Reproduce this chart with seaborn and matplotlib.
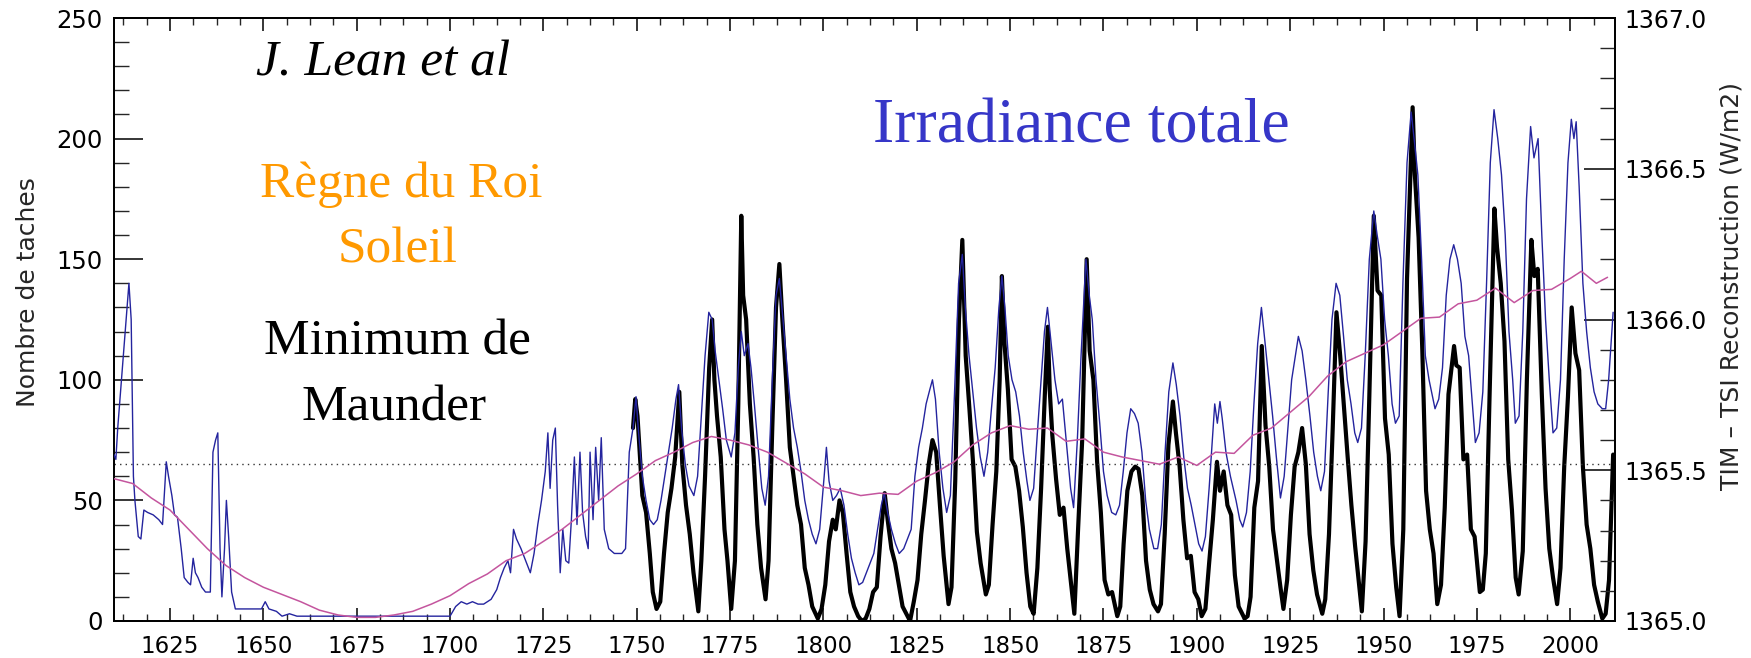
import matplotlib
matplotlib.use("Agg")
import matplotlib.pyplot as plt
from matplotlib.ticker import MultipleLocator, FormatStrFormatter
import seaborn as sns

# ---------------- data ----------------
# Sunspot number (left axis)
ssn_years = [1749.0, 1749.6, 1750.2, 1750.8, 1751.5, 1752.5, 1753.5, 1754.3, 1755.3, 1756.3, 1757.3, 1758.3, 1759.3, 1760.3,
             1761.4, 1762.2, 1763.2, 1764.2, 1765.2, 1766.5, 1767.3, 1768.3, 1769.4, 1770.2, 1770.8, 1771.5, 1772.5, 1773.5,
             1774.3, 1775.3, 1776.3, 1777.2, 1778.0, 1778.5, 1779.3, 1780.3, 1781.3, 1782.3, 1783.3, 1784.5, 1785.3, 1786.3,
             1787.3, 1788.2, 1789.0, 1790.0, 1791.0, 1792.0, 1793.0, 1794.0, 1795.0, 1796.0, 1797.0, 1798.5, 1799.5, 1800.5,
             1801.5, 1802.5, 1803.3, 1804.3, 1805.2, 1806.2, 1807.2, 1808.2, 1809.3, 1810.3, 1811.3, 1812.3, 1813.3, 1814.3,
             1815.3, 1816.4, 1817.2, 1818.2, 1819.2, 1820.2, 1821.2, 1822.2, 1823.2, 1824.2, 1825.2, 1826.2, 1827.2, 1828.2,
             1829.2, 1830.2, 1831.2, 1832.2, 1833.5, 1834.3, 1835.3, 1836.3, 1837.2, 1838.1, 1839.1, 1840.1, 1841.1, 1842.1,
             1843.5, 1844.3, 1845.3, 1846.3, 1847.2, 1847.8, 1848.5, 1849.4, 1850.4, 1851.4, 1852.4, 1853.4, 1854.4, 1855.4,
             1856.3, 1857.3, 1858.3, 1859.3, 1860.1, 1860.6, 1861.3, 1862.3, 1863.3, 1864.3, 1865.3, 1866.3, 1867.2, 1868.2,
             1869.3, 1870.5, 1871.3, 1872.3, 1873.3, 1874.3, 1875.3, 1876.3, 1877.3, 1878.7, 1879.5, 1880.4, 1881.4, 1882.5,
             1883.5, 1884.4, 1885.4, 1886.4, 1887.4, 1888.4, 1889.6, 1890.4, 1891.4, 1892.4, 1893.6, 1894.4, 1895.4, 1896.4,
             1897.4, 1898.4, 1899.4, 1900.4, 1901.3, 1902.3, 1903.3, 1904.3, 1905.4, 1906.2, 1907.2, 1908.2, 1909.2, 1910.2,
             1911.2, 1912.8, 1913.6, 1914.4, 1915.4, 1916.4, 1917.4, 1918.4, 1919.4, 1920.4, 1921.4, 1922.4, 1923.2, 1924.2,
             1925.2, 1926.2, 1927.2, 1928.2, 1929.2, 1930.2, 1931.2, 1932.2, 1933.6, 1934.4, 1935.4, 1936.4, 1937.4, 1938.4,
             1939.4, 1940.4, 1941.4, 1942.4, 1943.4, 1944.2, 1945.2, 1946.2, 1947.4, 1948.4, 1949.4, 1950.4, 1951.4, 1952.4,
             1953.4, 1954.3, 1955.3, 1956.3, 1957.8, 1958.4, 1959.4, 1960.4, 1961.4, 1962.4, 1963.4, 1964.4, 1965.4, 1966.4,
             1967.4, 1968.9, 1969.5, 1970.4, 1971.4, 1972.4, 1973.4, 1974.4, 1975.8, 1976.6, 1977.4, 1978.4, 1979.7, 1980.4,
             1981.4, 1982.4, 1983.4, 1984.4, 1985.4, 1986.2, 1987.3, 1988.4, 1989.6, 1990.4, 1991.3, 1992.4, 1993.4, 1994.4,
             1995.4, 1996.5, 1997.4, 1998.4, 1999.4, 2000.4, 2001.4, 2002.4, 2003.4, 2004.4, 2005.4, 2006.4, 2007.4, 2008.6,
             2009.5, 2010.4, 2011.5]
ssn_values = [80, 92, 85, 70, 52, 45, 28, 12, 5, 8, 28, 45, 55, 68,
              95, 65, 48, 36, 20, 4, 25, 60, 105, 125, 100, 85, 68, 38,
              25, 5, 25, 90, 168, 135, 125, 90, 68, 40, 22, 9, 25, 80,
              130, 148, 125, 100, 72, 60, 48, 40, 22, 15, 6, 1, 5, 15,
              33, 42, 38, 50, 45, 28, 12, 6, 2, 0, 1, 5, 12, 14,
              35, 53, 42, 30, 24, 15, 6, 3, 0, 8, 17, 36, 50, 65,
              75, 70, 48, 27, 7, 14, 58, 125, 158, 110, 88, 65, 37, 24,
              11, 15, 40, 62, 100, 143, 115, 96, 67, 64, 54, 39, 20, 6,
              3, 22, 55, 94, 122, 96, 77, 59, 44, 47, 30, 16, 3, 38,
              75, 150, 112, 100, 66, 45, 17, 11, 12, 2, 6, 32, 54, 62,
              64, 63, 52, 25, 13, 7, 4, 7, 36, 73, 91, 78, 64, 42,
              26, 27, 12, 9, 2, 5, 24, 42, 66, 54, 62, 48, 44, 19,
              6, 1, 2, 10, 47, 58, 114, 81, 64, 38, 26, 14, 5, 17,
              44, 64, 70, 80, 65, 36, 21, 11, 3, 9, 36, 80, 128, 110,
              89, 68, 48, 31, 16, 4, 33, 93, 168, 137, 135, 84, 69, 32,
              14, 2, 38, 142, 213, 185, 159, 112, 54, 38, 28, 7, 15, 47,
              94, 114, 106, 105, 67, 69, 38, 35, 12, 13, 28, 93, 171, 155,
              140, 116, 67, 46, 18, 11, 29, 100, 158, 143, 146, 94, 55, 30,
              18, 7, 22, 64, 93, 130, 111, 104, 64, 40, 30, 15, 8, 1,
              3, 17, 69]

# TSI reconstruction, W/m2 (right axis)
tsi_years = [1610.0, 1610.5, 1611.0, 1612.0, 1613.0, 1614.0, 1614.6, 1615.2, 1615.6, 1616.5, 1617.2, 1618.0, 1619.0, 1620.5,
             1622.0, 1623.0, 1624.0, 1624.6, 1625.5, 1626.2, 1627.0, 1628.0, 1628.8, 1629.8, 1630.5, 1631.2, 1631.8, 1632.5,
             1633.5, 1634.5, 1635.8, 1636.5, 1637.2, 1637.8, 1638.4, 1638.9, 1639.6, 1640.1, 1640.7, 1641.5, 1642.5, 1645.0,
             1649.5, 1650.5, 1651.5, 1653.5, 1655.0, 1657.0, 1659.0, 1670.0, 1690.0, 1700.0, 1701.5, 1703.0, 1704.5, 1706.0,
             1707.5, 1709.0, 1711.0, 1712.5, 1713.5, 1714.5, 1715.5, 1716.2, 1717.0, 1717.8, 1719.0, 1720.5, 1721.5, 1722.5,
             1723.5, 1724.5, 1725.5, 1726.2, 1726.8, 1727.5, 1728.2, 1728.8, 1729.5, 1730.2, 1731.0, 1731.8, 1732.5, 1733.3,
             1734.0, 1734.8, 1735.5, 1736.3, 1737.0, 1737.5, 1738.3, 1739.0, 1739.8, 1740.5, 1741.3, 1742.5, 1744.0, 1746.0,
             1747.0, 1748.0, 1749.0, 1749.8, 1750.5, 1751.5, 1752.5, 1753.5, 1754.5, 1755.5, 1756.5, 1757.5, 1758.5, 1759.5,
             1760.5, 1761.2, 1762.0, 1763.0, 1764.0, 1765.3, 1766.3, 1767.3, 1768.3, 1769.3, 1770.2, 1771.0, 1772.0, 1773.0,
             1774.0, 1775.3, 1776.3, 1777.2, 1778.0, 1778.8, 1779.8, 1780.6, 1781.5, 1782.5, 1783.5, 1784.4, 1785.3, 1786.3,
             1787.3, 1788.2, 1789.0, 1790.0, 1791.0, 1792.0, 1793.0, 1794.0, 1795.0, 1796.0, 1797.0, 1798.0, 1799.0, 1800.2,
             1800.8, 1801.5, 1802.5, 1803.5, 1804.5, 1805.5, 1806.5, 1807.5, 1808.5, 1809.5, 1810.5, 1811.5, 1812.5, 1813.5,
             1814.5, 1815.5, 1816.3, 1817.2, 1818.2, 1819.3, 1820.3, 1821.5, 1822.5, 1823.5, 1824.5, 1825.5, 1826.5, 1827.5,
             1828.5, 1829.2, 1830.0, 1831.0, 1832.0, 1833.0, 1834.0, 1835.0, 1836.2, 1837.2, 1838.0, 1839.0, 1840.0, 1841.0,
             1842.0, 1843.0, 1844.0, 1845.0, 1846.0, 1847.0, 1847.8, 1848.6, 1849.5, 1850.5, 1851.5, 1852.5, 1853.5, 1854.5,
             1855.3, 1856.3, 1857.3, 1858.3, 1859.2, 1860.0, 1861.0, 1862.0, 1863.0, 1864.0, 1865.0, 1866.2, 1867.0, 1868.0,
             1869.0, 1870.3, 1871.2, 1872.0, 1873.0, 1874.0, 1875.0, 1876.0, 1877.2, 1878.3, 1879.3, 1880.3, 1881.3, 1882.3,
             1883.3, 1884.3, 1885.3, 1886.3, 1887.3, 1888.5, 1889.5, 1890.5, 1891.5, 1892.5, 1893.6, 1894.5, 1895.5, 1896.5,
             1897.5, 1898.5, 1899.5, 1900.5, 1901.4, 1902.3, 1903.3, 1904.3, 1904.8, 1905.5, 1906.2, 1906.8, 1907.8, 1909.0,
             1910.5, 1911.5, 1912.3, 1913.3, 1914.3, 1915.3, 1916.3, 1917.3, 1918.3, 1919.3, 1920.3, 1921.3, 1922.4, 1923.4,
             1924.4, 1925.4, 1926.4, 1927.2, 1928.2, 1929.2, 1930.3, 1931.3, 1932.3, 1933.2, 1934.2, 1935.2, 1936.2, 1937.3,
             1938.3, 1939.3, 1940.3, 1941.3, 1942.3, 1943.1, 1944.1, 1945.1, 1946.2, 1947.4, 1948.3, 1949.3, 1950.3, 1951.3,
             1952.3, 1953.2, 1954.2, 1955.2, 1956.3, 1957.4, 1958.2, 1959.2, 1960.2, 1961.2, 1962.2, 1963.8, 1964.8, 1965.8,
             1966.8, 1967.8, 1968.8, 1969.8, 1970.8, 1971.8, 1972.8, 1973.8, 1974.6, 1975.6, 1976.6, 1977.6, 1978.6, 1979.6,
             1980.6, 1981.6, 1982.6, 1983.6, 1984.6, 1985.3, 1986.3, 1987.3, 1988.3, 1989.4, 1990.3, 1991.4, 1992.4, 1993.4,
             1994.4, 1995.4, 1996.4, 1997.4, 1998.4, 1999.4, 2000.3, 2001.0, 2001.6, 2002.4, 2003.4, 2004.4, 2005.4, 2006.4,
             2007.4, 2008.6, 2009.5, 2010.3, 2011.5]
tsi_values = [1365.552, 1365.536, 1365.640, 1365.800, 1365.960, 1366.120, 1366.000, 1365.480, 1365.400, 1365.280, 1365.272, 1365.368, 1365.360, 1365.352,
              1365.336, 1365.320, 1365.528, 1365.480, 1365.416, 1365.352, 1365.344, 1365.240, 1365.144, 1365.128, 1365.120, 1365.208, 1365.160, 1365.144,
              1365.112, 1365.096, 1365.096, 1365.560, 1365.600, 1365.624, 1365.240, 1365.080, 1365.240, 1365.400, 1365.280, 1365.096, 1365.040, 1365.040,
              1365.040, 1365.064, 1365.040, 1365.032, 1365.016, 1365.024, 1365.016, 1365.016, 1365.016, 1365.016, 1365.048, 1365.064, 1365.056, 1365.064,
              1365.056, 1365.056, 1365.072, 1365.104, 1365.144, 1365.176, 1365.200, 1365.160, 1365.304, 1365.272, 1365.240, 1365.192, 1365.160, 1365.224,
              1365.320, 1365.400, 1365.496, 1365.624, 1365.440, 1365.600, 1365.640, 1365.384, 1365.160, 1365.304, 1365.200, 1365.192, 1365.336, 1365.544,
              1365.320, 1365.560, 1365.360, 1365.280, 1365.240, 1365.560, 1365.336, 1365.576, 1365.400, 1365.608, 1365.304, 1365.240, 1365.224, 1365.224,
              1365.240, 1365.560, 1365.640, 1365.744, 1365.624, 1365.480, 1365.400, 1365.336, 1365.320, 1365.336, 1365.400, 1365.480, 1365.560, 1365.640,
              1365.736, 1365.784, 1365.640, 1365.520, 1365.448, 1365.416, 1365.480, 1365.680, 1365.880, 1366.024, 1366.000, 1365.896, 1365.800, 1365.704,
              1365.600, 1365.544, 1365.624, 1365.840, 1365.960, 1365.880, 1365.920, 1365.840, 1365.720, 1365.576, 1365.440, 1365.384, 1365.480, 1365.800,
              1366.080, 1366.136, 1366.024, 1365.880, 1365.736, 1365.640, 1365.576, 1365.496, 1365.400, 1365.336, 1365.288, 1365.256, 1365.304, 1365.480,
              1365.576, 1365.464, 1365.400, 1365.416, 1365.440, 1365.384, 1365.288, 1365.208, 1365.160, 1365.120, 1365.128, 1365.160, 1365.192, 1365.224,
              1365.304, 1365.384, 1365.424, 1365.360, 1365.304, 1365.256, 1365.224, 1365.240, 1365.272, 1365.304, 1365.480, 1365.576, 1365.640, 1365.720,
              1365.768, 1365.800, 1365.736, 1365.560, 1365.440, 1365.360, 1365.416, 1365.720, 1366.120, 1366.216, 1366.040, 1365.880, 1365.760, 1365.640,
              1365.544, 1365.480, 1365.560, 1365.704, 1365.840, 1366.040, 1366.144, 1366.040, 1365.880, 1365.800, 1365.760, 1365.680, 1365.560, 1365.464,
              1365.400, 1365.440, 1365.624, 1365.800, 1365.960, 1366.040, 1365.920, 1365.800, 1365.720, 1365.736, 1365.600, 1365.440, 1365.376, 1365.600,
              1365.880, 1366.200, 1366.080, 1366.000, 1365.800, 1365.656, 1365.496, 1365.416, 1365.360, 1365.352, 1365.384, 1365.496, 1365.624, 1365.704,
              1365.688, 1365.656, 1365.560, 1365.400, 1365.304, 1365.240, 1365.240, 1365.320, 1365.560, 1365.760, 1365.856, 1365.784, 1365.680, 1365.544,
              1365.440, 1365.384, 1365.320, 1365.256, 1365.232, 1365.280, 1365.440, 1365.624, 1365.720, 1365.656, 1365.728, 1365.672, 1365.560, 1365.480,
              1365.400, 1365.336, 1365.312, 1365.360, 1365.496, 1365.720, 1365.920, 1366.040, 1365.920, 1365.800, 1365.680, 1365.544, 1365.408, 1365.480,
              1365.640, 1365.800, 1365.880, 1365.944, 1365.896, 1365.800, 1365.680, 1365.560, 1365.480, 1365.432, 1365.496, 1365.760, 1366.000, 1366.120,
              1366.080, 1365.944, 1365.800, 1365.720, 1365.624, 1365.592, 1365.640, 1365.880, 1366.200, 1366.360, 1366.280, 1366.200, 1366.000, 1365.880,
              1365.720, 1365.656, 1365.680, 1366.120, 1366.520, 1366.688, 1366.600, 1366.480, 1366.200, 1365.880, 1365.800, 1365.704, 1365.736, 1365.840,
              1366.080, 1366.200, 1366.248, 1366.200, 1366.120, 1365.944, 1365.880, 1365.720, 1365.592, 1365.624, 1365.760, 1366.120, 1366.520, 1366.696,
              1366.600, 1366.480, 1366.280, 1365.960, 1365.800, 1365.656, 1365.680, 1365.960, 1366.400, 1366.640, 1366.536, 1366.600, 1366.280, 1366.000,
              1365.800, 1365.624, 1365.640, 1365.800, 1366.200, 1366.520, 1366.664, 1366.600, 1366.656, 1366.440, 1366.120, 1365.960, 1365.840, 1365.760,
              1365.720, 1365.704, 1365.704, 1365.800, 1366.024]

# smoothed TSI (magenta), W/m2
trend_years = [1610, 1615, 1620, 1625, 1630, 1635, 1640, 1645, 1650, 1655, 1660, 1665, 1670, 1675, 1680, 1685, 1690, 1695,
               1700, 1705, 1710, 1715, 1720, 1725, 1730, 1735, 1740, 1745, 1750, 1755, 1760, 1765, 1770, 1775, 1780, 1785,
               1790, 1795, 1800, 1805, 1810, 1815, 1820, 1825, 1830, 1835, 1840, 1845, 1850, 1855, 1860, 1865, 1870, 1875,
               1880, 1885, 1890, 1895, 1900, 1905, 1910, 1915, 1920, 1925, 1930, 1935, 1940, 1945, 1950, 1955, 1960, 1965,
               1970, 1975, 1980, 1985, 1990, 1995, 2000, 2003, 2007, 2010]
trend_values = [1365.472, 1365.456, 1365.408, 1365.368, 1365.304, 1365.240, 1365.184, 1365.144, 1365.112, 1365.088, 1365.064, 1365.036,
                1365.020, 1365.012, 1365.012, 1365.020, 1365.032, 1365.056, 1365.084, 1365.124, 1365.156, 1365.200, 1365.224, 1365.264,
                1365.304, 1365.352, 1365.400, 1365.448, 1365.488, 1365.532, 1365.560, 1365.592, 1365.612, 1365.600, 1365.584, 1365.560,
                1365.524, 1365.488, 1365.444, 1365.432, 1365.416, 1365.424, 1365.420, 1365.464, 1365.492, 1365.528, 1365.584, 1365.624,
                1365.648, 1365.636, 1365.640, 1365.596, 1365.604, 1365.560, 1365.544, 1365.532, 1365.520, 1365.544, 1365.516, 1365.560,
                1365.556, 1365.616, 1365.640, 1365.692, 1365.744, 1365.812, 1365.860, 1365.888, 1365.916, 1365.960, 1366.004, 1366.008,
                1366.052, 1366.064, 1366.104, 1366.056, 1366.096, 1366.100, 1366.136, 1366.160, 1366.120, 1366.140]

reference_level = 1365.52   # dotted horizontal line (W/m2)

x_ticks = [1625, 1650, 1675, 1700, 1725, 1750, 1775, 1800, 1825, 1850, 1875, 1900, 1925, 1950, 1975, 2000]

# ---------------- figure ----------------
sns.set_theme(style="white")
plt.rcParams["font.family"] = ["DejaVu Sans"]

fig = plt.figure(figsize=(17.51, 6.58), dpi=100)
ax = fig.add_axes([114 / 1751, 1 - 621 / 658, 1501 / 1751, 603 / 658])
ax2 = ax.twinx()

sns.lineplot(x=ssn_years, y=ssn_values, ax=ax, color="black", linewidth=3.0,
             estimator=None, sort=False, zorder=3)
sns.lineplot(x=tsi_years, y=tsi_values, ax=ax2, color="#24249e", linewidth=1.0,
             estimator=None, sort=False, zorder=4)
sns.lineplot(x=trend_years, y=trend_values, ax=ax2, color="#c4559e", linewidth=1.1,
             estimator=None, sort=False, zorder=5)
ax2.axhline(reference_level, color="#333333", linestyle=(0, (1, 3)), linewidth=1.0, zorder=2)

ax.set_xlim(1610, 2012)
ax.set_ylim(0, 250)
ax2.set_ylim(1365.0, 1367.0)

ax.set_xticks(x_ticks)
ax.xaxis.set_minor_locator(MultipleLocator(6.25))
ax.yaxis.set_major_locator(MultipleLocator(50))
ax.yaxis.set_minor_locator(MultipleLocator(10))
ax2.yaxis.set_major_locator(MultipleLocator(0.5))
ax2.yaxis.set_minor_locator(MultipleLocator(0.1))
ax2.yaxis.set_major_formatter(FormatStrFormatter("%.1f"))

for a in (ax, ax2):
    for s in a.spines.values():
        s.set_visible(True)
        s.set_color("black")
        s.set_linewidth(1.3)

ax.tick_params(axis="x", which="major", direction="in", length=9.5, width=1.1, top=True, bottom=True,
               labelsize=16.5, pad=10, colors="black")
ax.tick_params(axis="x", which="minor", direction="in", length=5, width=1.0, top=True, bottom=True)
ax.tick_params(axis="y", which="major", direction="in", length=21, width=1.1, left=True, right=False,
               labelsize=17.5, pad=8, colors="black")
ax.tick_params(axis="y", which="minor", direction="in", length=11, width=1.0, left=True, right=False)
ax2.tick_params(axis="y", which="major", direction="in", length=22, width=1.1, right=True, left=False,
                labelsize=17, pad=7, colors="black")
ax2.tick_params(axis="y", which="minor", direction="in", length=11, width=1.0, right=True, left=False)

ax.set_xlabel("")
ax.set_ylabel("Nombre de taches", fontsize=18)
ax.yaxis.set_label_coords(-0.0493, 0.545)
ax2.set_ylabel("TIM \u2013 TSI Reconstruction (W/m2)", fontsize=18)
ax2.yaxis.set_label_coords(1.0693, 0.555)

serif = ["Liberation Serif", "DejaVu Serif"]
ax.text(1682, 226, "J. Lean et al", fontsize=37, style="italic", family=serif,
        ha="center", va="baseline", color="black")
ax.text(1687, 175.7, "R\u00e8gne du Roi", fontsize=37, family=serif,
        ha="center", va="baseline", color="#ff9900")
ax.text(1686, 148.6, "Soleil", fontsize=37, family=serif,
        ha="center", va="baseline", color="#ff9900")
ax.text(1686, 110.5, "Minimum de", fontsize=37, family=serif,
        ha="center", va="baseline", color="black")
ax.text(1685, 83.1, "Maunder", fontsize=37, family=serif,
        ha="center", va="baseline", color="black")
ax.text(1869, 198.2, "Irradiance totale", fontsize=46, family=serif,
        ha="center", va="baseline", color="#3636c8")

fig.savefig("out.png", dpi=100, facecolor="white")
